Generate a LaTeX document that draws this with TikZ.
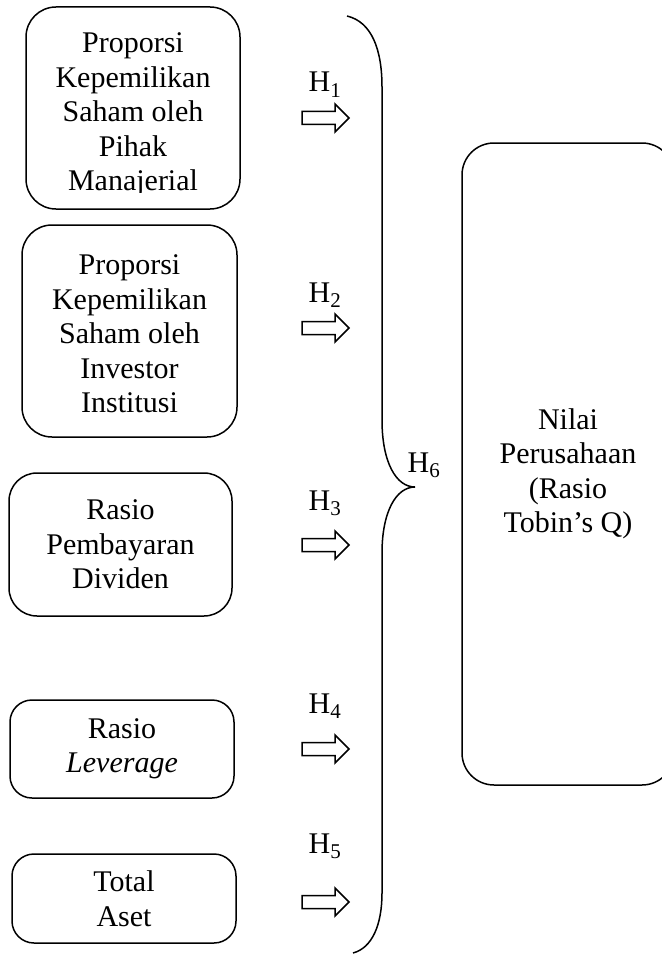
\documentclass[tikz,border=0pt]{standalone}
\usepackage{fontspec}
\setmainfont{Liberation Serif}
\newcommand\hblockarrow[1]{%
  \draw[arrowline] (302,#1-6.5) -- (335,#1-6.5) -- (335,#1-14) -- (349,#1)
    -- (335,#1+14) -- (335,#1+6.5) -- (302,#1+6.5) -- cycle;}
\begin{document}
\begin{tikzpicture}[x=1pt,y=-1pt,
  box/.style={draw, line width=1.5pt, rounded corners=#1, inner sep=0pt},
  txt/.style={font=\fontsize{30}{34.5}\selectfont, align=center, inner sep=0pt},
  lbl/.style={font=\fontsize{30}{34.5}\selectfont, inner sep=0pt, anchor=base},
  arrowline/.style={draw, line width=1.5pt, fill=white, line join=miter}]
\useasboundingbox (0,0) rectangle (661,955);
\fill[white] (0,0) rectangle (661,955);

% left boxes
\node[box=30pt, minimum width=214pt, minimum height=202pt] (b1) at (133,108) {};
\begin{scope}
  \clip (26,7) rectangle (240,192);
  \node[txt] (t1) at (133,115) {Proporsi\\Kepemilikan\\Saham oleh\\Pihak\\Manajerial};
\end{scope}

\node[box=30pt, minimum width=215pt, minimum height=212pt] (b2) at (129.5,331) {};
\node[txt] (t2) at (129.5,334) {Proporsi\\Kepemilikan\\Saham oleh\\Investor\\Institusi};

\node[box=28pt, minimum width=223pt, minimum height=143pt, txt] (b3) at (120.5,544.5)
  {Rasio\\Pembayaran\\Dividen};

\node[box=22pt, minimum width=224pt, minimum height=98pt, txt] (b4) at (122,749)
  {Rasio\\\textit{Leverage}};

\node[box=22pt, minimum width=224pt, minimum height=89pt, txt] (b5) at (124,898.5)
  {Total\\Aset};

% right box
\node[box=32pt, minimum width=212pt, minimum height=642pt] (nilai) at (568,464) {};
\node[txt] (nilaitext) at (568,474) {Nilai\\Perusahaan\\(Rasio\\Tobin's Q)};

% hypothesis labels
\node[lbl] (h1) at (325,92) {H\textsubscript{1}};
\node[lbl] (h2) at (325,302) {H\textsubscript{2}};
\node[lbl] (h3) at (325,510) {H\textsubscript{3}};
\node[lbl] (h4) at (325,713) {H\textsubscript{4}};
\node[lbl] (h5) at (325,853) {H\textsubscript{5}};
\node[lbl] (h6) at (424,472) {H\textsubscript{6}};

% block arrows
\hblockarrow{118}
\hblockarrow{328}
\hblockarrow{545}
\hblockarrow{749}
\hblockarrow{902}

% brace
\draw[line width=1.5pt] (347,16) .. controls (372,22) and (382,50) .. (382,87)
  -- (382,420) .. controls (382,462) and (396,487) .. (415,487)
  .. controls (396,487) and (382,512) .. (382,553)
  -- (382,893) .. controls (382,925) and (372,948) .. (353,953);
\end{tikzpicture}
\end{document}
